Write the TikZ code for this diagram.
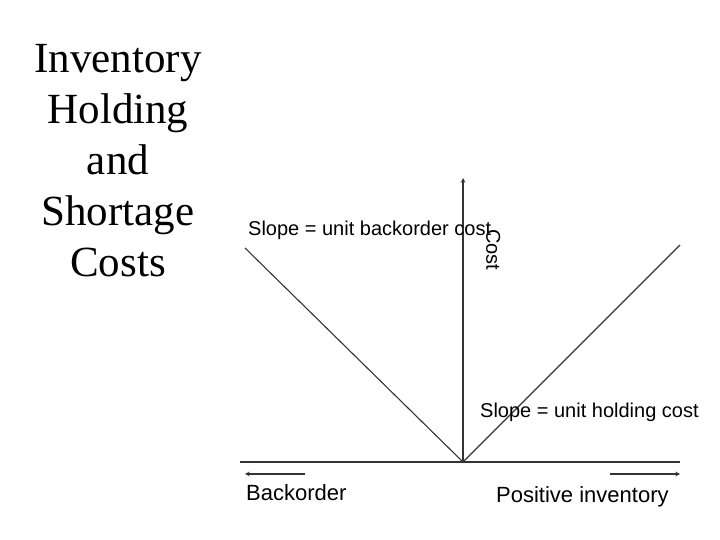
\documentclass[tikz,border=0pt]{standalone}
\usepackage{fontspec}
\setmainfont{Liberation Serif}
\newfontfamily\sansf{Liberation Sans}
\begin{document}
\begin{tikzpicture}[x=1pt,y=1pt,
  ln/.style={line width=1.1pt,black!80},
  hand/.style={font=\sansf\fontsize{20}{20}\selectfont,inner sep=0pt}]
\useasboundingbox (0,0) rectangle (720,540);
\node[align=center,font=\fontsize{43}{51}\selectfont,anchor=north,inner sep=0pt] (title) at (118,496) {Inventory\\Holding\\and\\Shortage\\Costs};
\coordinate (o) at (463,78);
\coordinate (top) at (463,362);
\coordinate (l) at (240,78);
\coordinate (r) at (680,78);
\draw[ln,-stealth] (o) -- (top);
\draw[ln] (l) -- (r);
\coordinate (lt) at (245,292);
\coordinate (rt) at (680,295);
\draw[ln] (lt) -- (o) -- (rt);
\coordinate (b1) at (305,66); \coordinate (b2) at (245,66);
\draw[ln,-stealth] (b1) -- (b2);
\coordinate (p1) at (610,66); \coordinate (p2) at (680,66);
\draw[ln,-stealth] (p1) -- (p2);
\node[font=\sansf\fontsize{22}{22}\selectfont,anchor=north west,inner sep=0pt] (bo) at (246,56) {Backorder};
\node[font=\sansf\fontsize{22}{22}\selectfont,anchor=north west,inner sep=0pt] (pi) at (496,54) {Positive inventory};
\node[hand,anchor=west] (s1) at (248,310) {Slope = unit backorder cost};
\node[hand,rotate=-90,anchor=south] (c) at (486,290) {Cost};
\node[hand,anchor=west] (s2) at (480,128) {Slope = unit holding cost};
\end{tikzpicture}
\end{document}
